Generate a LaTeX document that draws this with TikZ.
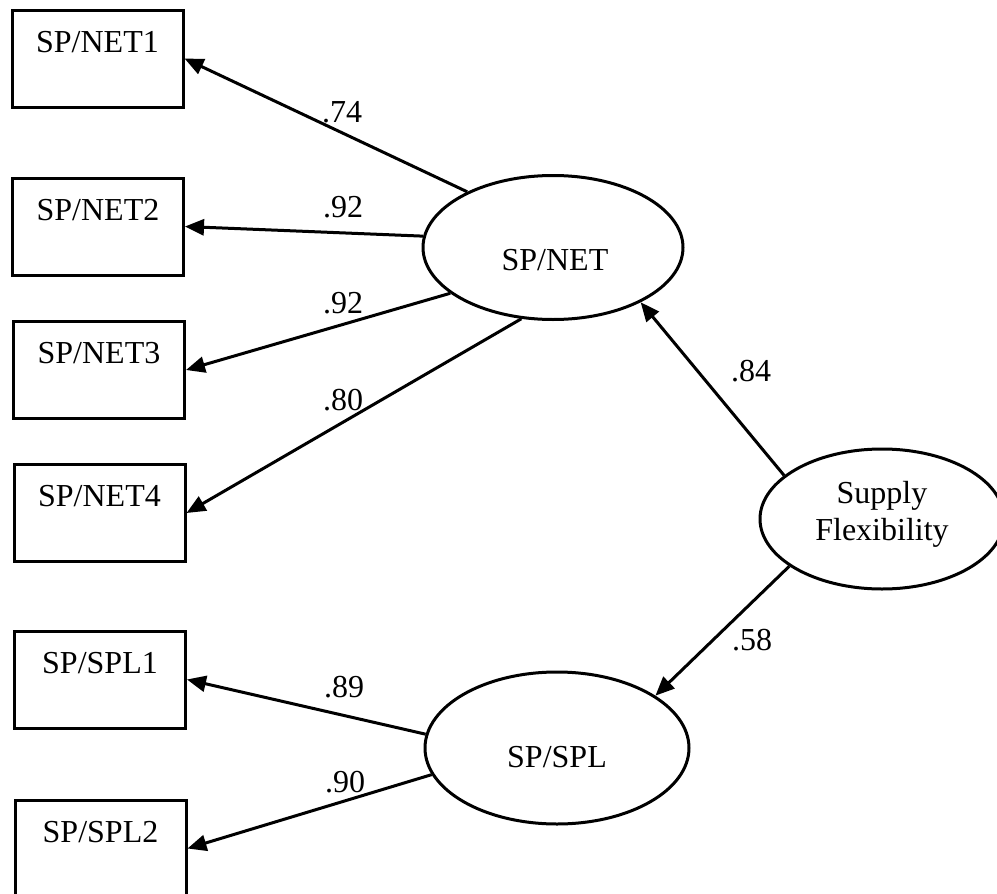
\documentclass[tikz,border=0pt]{standalone}
\usepackage{fontspec}
\setmainfont{Liberation Serif}
\usetikzlibrary{shapes.geometric,arrows.meta}
\begin{document}
\begin{tikzpicture}[x=1pt,y=-1pt,
  every node/.style={font=\fontsize{32}{37}\selectfont},
  indicator/.style={draw, rectangle, line width=3pt, minimum width=171pt,
    inner xsep=0pt, inner ysep=0pt, text height=42pt, text depth=55pt},
  latent/.style={draw, ellipse, line width=3pt, inner sep=0pt},
  caption/.style={inner sep=0pt},
  coef/.style={inner sep=0pt},
  path/.style={line width=3pt, -{Triangle[length=19pt,width=16pt]}}]
  \useasboundingbox (0,0) rectangle (997,894);

  % observed indicators
  \node[indicator] (n1) at (97.5,58.5) {SP/NET1};
  \node[indicator] (n2) at (98,226.5) {SP/NET2};
  \node[indicator] (n3) at (99,370) {SP/NET3};
  \node[indicator] (n4) at (99.5,513) {SP/NET4};
  \node[indicator] (s1) at (100,679.5) {SP/SPL1};
  \node[indicator] (s2) at (100.5,848.5) {SP/SPL2};

  % latent constructs
  \node[latent, minimum width=260pt, minimum height=144pt] (net) at (553,247.5) {};
  \node[caption] (nettxt) at (555,260) {SP/NET};
  \node[latent, minimum width=264pt, minimum height=152pt] (spl) at (557,748) {};
  \node[caption] (spltxt) at (557,757) {SP/SPL};
  \node[latent, minimum width=244pt, minimum height=140pt] (sf) at (882,519) {};
  \node[caption, align=center] (sftxt) at (882,514) {Supply\\Flexibility};

  % loadings
  \draw[path] (net.147.6) -- (n1.east);
  \draw[path] (net.175.6) -- (n2.east);
  \draw[path] (net.204.1) -- (n3.east);
  \draw[path] (net.246) -- (n4.east);
  \draw[path] (sf.156) -- (net.328);
  \draw[path] (sf.207) -- (spl.28.4);
  \draw[path] (spl.174.3) -- (s1.east);
  \draw[path] (spl.192.7) -- (s2.east);

  % coefficients
  \node[coef] (c1) at (342,112) {.74};
  \node[coef] (c2) at (343,207) {.92};
  \node[coef] (c3) at (343,303) {.92};
  \node[coef] (c4) at (343,400) {.80};
  \node[coef] (c5) at (751,371) {.84};
  \node[coef] (c6) at (752,640) {.58};
  \node[coef] (c7) at (344,687) {.89};
  \node[coef] (c8) at (345,782) {.90};
\end{tikzpicture}
\end{document}
